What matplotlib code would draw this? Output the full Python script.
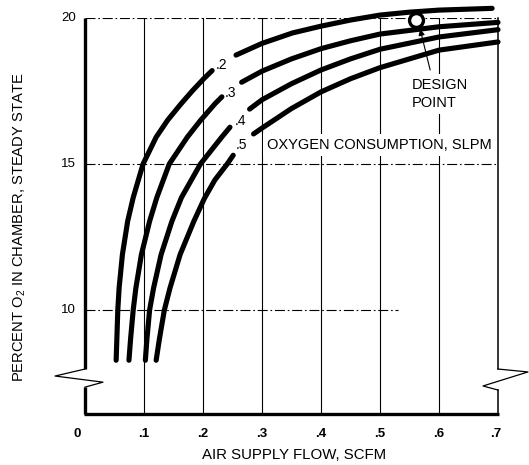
import matplotlib
matplotlib.use("Agg")
import matplotlib.pyplot as plt

plt.rcParams['font.family'] = ['Liberation Sans', 'DejaVu Sans']
plt.rcParams['mathtext.fontset'] = 'custom'
plt.rcParams['mathtext.rm'] = 'Liberation Sans'

# ---------------- data ----------------
x_tick_values = [0, 0.1, 0.2, 0.3, 0.4, 0.5, 0.6, 0.7]
x_tick_labels = ['0', '.1', '.2', '.3', '.4', '.5', '.6', '.7']
y_tick_values = [10, 15, 20]
y_tick_labels = ['10', '15', '20']

consumption_labels = ['.2', '.3', '.4', '.5']

# 0.2 SLPM curve (lower part, upper part split at the label)
flow_02_low = [0.0528, 0.054, 0.0556, 0.0578, 0.0634, 0.0723, 0.0817, 0.0984, 0.1206,
               0.140, 0.1623, 0.1817, 0.2012, 0.2155]
pct_02_low = [8.28, 9.02, 10.0, 10.75, 11.9, 13.04, 13.85, 15.0, 15.92,
              16.50, 17.05, 17.50, 17.92, 18.20]
flow_02_high = [0.256, 0.300, 0.352, 0.400, 0.450, 0.500, 0.550, 0.600, 0.690]
pct_02_high = [18.73, 19.13, 19.49, 19.72, 19.93, 20.10, 20.20, 20.27, 20.33]

# 0.3 SLPM curve
flow_03_low = [0.0745, 0.0773, 0.0817, 0.0862, 0.0956, 0.1095, 0.1217, 0.1428, 0.1734,
               0.1956, 0.2206, 0.232]
pct_03_low = [8.28, 9.02, 10.0, 10.75, 11.9, 13.04, 13.85, 15.0, 15.92,
              16.49, 17.07, 17.30]
flow_03_high = [0.2655, 0.300, 0.350, 0.400, 0.450, 0.500, 0.600, 0.700]
pct_03_high = [17.80, 18.18, 18.60, 18.95, 19.22, 19.45, 19.70, 19.85]

# 0.4 SLPM curve
flow_04_low = [0.1023, 0.105, 0.1095, 0.1162, 0.129, 0.1473, 0.1634, 0.1956, 0.2317, 0.2457]
pct_04_low = [8.28, 9.02, 10.0, 10.75, 11.9, 13.04, 13.85, 15.0, 15.92, 16.26]
flow_04_high = [0.279, 0.300, 0.350, 0.400, 0.450, 0.500, 0.600, 0.700]
pct_04_high = [16.88, 17.20, 17.75, 18.22, 18.60, 18.93, 19.35, 19.60]

# 0.5 SLPM curve
flow_05_low = [0.1206, 0.1262, 0.1345, 0.144, 0.1612, 0.1845, 0.2023, 0.220, 0.241, 0.2512]
pct_05_low = [8.28, 9.02, 10.0, 10.75, 11.9, 13.04, 13.82, 14.45, 15.0, 15.30]
flow_05_high = [0.2857, 0.300, 0.350, 0.400, 0.450, 0.500, 0.600, 0.700]
pct_05_high = [16.03, 16.23, 16.90, 17.47, 17.92, 18.30, 18.90, 19.18]

label_flow = [0.232, 0.246, 0.263, 0.266]
label_pct = [18.39, 17.43, 16.47, 15.65]

design_flow = 0.561
design_pct = 19.93

x_min, x_max = 0.0, 0.7
y_min, y_max = 6.44, 20.0

# ---------------- figure ----------------
fig = plt.figure(figsize=(5.29, 4.65), dpi=100)
ax = fig.add_axes([85 / 529, (465 - 414) / 465, 413 / 529, 396 / 465])
ax.set_xlim(x_min, x_max)
ax.set_ylim(y_min, y_max)
ax.axis('off')

dashdot = (0, (9, 2.5, 1.5, 2.5))

# vertical grid lines
for xv in x_tick_values[1:-1]:
    ax.plot([xv, xv], [y_min, y_max], color='black', lw=0.8, zorder=1)
# horizontal dash-dot lines
ax.plot([x_min, x_max], [20, 20], color='black', lw=0.8, ls=dashdot, zorder=1)
ax.plot([x_min, x_max], [15, 15], color='black', lw=0.8, ls=dashdot, zorder=1)
ax.plot([x_min, 0.53], [10, 10], color='black', lw=0.8, ls=dashdot, zorder=1)

# frame with breaks
ax.plot([0, 0], [y_max, 7.98], color='black', lw=2.4, solid_capstyle='butt', clip_on=False, zorder=4)
ax.plot([0, -0.0508, 0.0305, 0.0], [7.98, 7.74, 7.53, 7.36], color='black', lw=0.9, clip_on=False, zorder=4)
ax.plot([0, 0], [7.36, y_min], color='black', lw=2.4, solid_capstyle='butt', clip_on=False, zorder=4)
ax.plot([-0.002, 0.702], [y_min, y_min], color='black', lw=2.4, solid_capstyle='butt', clip_on=False, zorder=4)
ax.plot([0.7, 0.7], [y_max, 7.98], color='black', lw=1.1, clip_on=False, zorder=4)
ax.plot([0.7, 0.7508, 0.6746, 0.7], [7.98, 7.88, 7.40, 7.26], color='black', lw=0.9, clip_on=False, zorder=4)
ax.plot([0.7, 0.7], [7.26, y_min], color='black', lw=1.1, clip_on=False, zorder=4)

# curves
segments = [
    (flow_02_low, pct_02_low), (flow_02_high, pct_02_high),
    (flow_03_low, pct_03_low), (flow_03_high, pct_03_high),
    (flow_04_low, pct_04_low), (flow_04_high, pct_04_high),
    (flow_05_low, pct_05_low), (flow_05_high, pct_05_high),
]
for fx, py in segments:
    ax.plot(fx, py, color='black', lw=3.7, solid_capstyle='round',
            solid_joinstyle='round', clip_on=False, zorder=3)

for lab, lx, ly in zip(consumption_labels, label_flow, label_pct):
    ax.text(lx, ly, lab, fontsize=10, ha='center', va='center', zorder=5)

# text annotations
ax.text(0.3085, 15.65, 'OXYGEN CONSUMPTION, SLPM', fontsize=10.5, ha='left', va='center',
        zorder=2.5, bbox=dict(facecolor='white', edgecolor='none', pad=3))
ax.text(0.554, 17.40, 'DESIGN\nPOINT', fontsize=10.5, ha='left', va='center',
        linespacing=1.35, zorder=2.5, bbox=dict(facecolor='white', edgecolor='none', pad=3))

# design point
ax.plot([design_flow], [design_pct], marker='o', markersize=10, markerfacecolor='white',
        markeredgecolor='black', markeredgewidth=2.4, clip_on=False, zorder=6)
ax.annotate('', xy=(0.568, 19.62), xytext=(0.585, 18.22),
            arrowprops=dict(arrowstyle='-|>', lw=0.8, color='black', mutation_scale=9,
                            shrinkA=0, shrinkB=0), zorder=6)

# tick labels
for xv, lab in zip(x_tick_values, x_tick_labels):
    off = -0.0135 if xv == 0 else (-0.004 if xv == 0.7 else 0.0)
    ax.text(xv + off, 5.77, lab, fontsize=9.5, ha='center', va='center', fontweight='bold')
for yv, lab in zip(y_tick_values, y_tick_labels):
    ax.text(-0.0155, yv, lab, fontsize=9.5, ha='right', va='center')

# axis titles
fig.text(294.5 / 529, 1 - 455 / 465, 'AIR SUPPLY FLOW, SCFM', fontsize=10.8,
         ha='center', va='center')
fig.text(20 / 529, 1 - 227 / 465, 'PERCENT O$_2$ IN CHAMBER, STEADY STATE', fontsize=10.6,
         ha='center', va='center', rotation=90)

fig.savefig('out.png', dpi=100)
